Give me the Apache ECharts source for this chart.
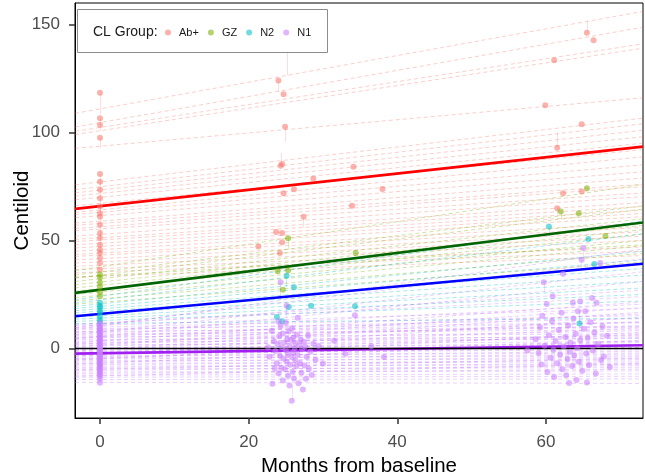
<!DOCTYPE html>
<html>
<head>
<meta charset="utf-8">
<script src="https://cdn.jsdelivr.net/npm/echarts@6/dist/echarts.min.js"></script>
<style>
  html, body { margin: 0; padding: 0; background: #fff; }
  #chart { width: 645px; height: 476px; }
</style>
</head>
<body>
<div id="chart"></div>
<script>
var xMin = -3.36, xMax = 73.05;
var yMin = -32.2, yMax = 159.9;
var xTicks = [0, 20, 40, 60];
var yTicks = [0, 50, 100, 150];

var groups = ['Ab+', 'GZ', 'N2', 'N1'];
var pointColors = ['#F8766D', '#7CAE00', '#00BFC4', '#C77CFF'];
var fitColors = ['#FF0000', '#006400', '#0000FF', '#A020F0'];

// group fitted lines, value at left edge / right edge
var groupStart = [64.6, 25.7, 14.9, -2.4];
var groupEnd = [93.4, 58.3, 39.2, 1.5];

// subject fitted lines (value at left edge, value at right edge)
var abStart = [108.8, 102.5, 100.5, 99, 92.6, 75.7, 73.5, 72, 70.5, 68.8, 63, 62, 60.5, 58, 55.5, 54.5,
  52, 50.5, 49.5, 48, 46.5, 45, 43.5, 42.6, 41, 39.5, 38, 36.5, 35, 33, 66, 57];
var abEnd = [156, 148.7, 141, 139, 116, 106.6, 104, 101, 98, 95, 88.7, 85, 81.8, 78.9, 74.9, 72,
  70.3, 67.5, 65.7, 64, 62.5, 61, 58, 56, 54, 52, 50, 47, 45, 43, 92, 76];
var gzStart = [36, 34, 32.5, 31, 29.5, 28, 26.5, 25, 23.5, 22, 20.5, 33];
var gzEnd = [76, 66, 64.5, 60, 57, 55, 53, 50, 47.5, 44, 40, 48];
var n2Start = [22.5, 21, 19.5, 18.5, 17.5, 16.5, 15.5, 14.5, 13.5, 12.5, 11.5];
var n2End = [59, 53, 45, 41, 37, 34, 31, 28, 25, 22, 14];
var n1Start = [11.2, 10.4, 9.7, 9.1, 8.5, 7.8, 7.2, 6.6, 6.0, 5.3, 4.7, 4.1, 3.4, 2.9, 2.2, 1.6, 1.0, 0.3,
  -0.3, -0.9, -1.5, -2.1, -2.7, -3.3, -3.9, -4.5, -5.1, -5.7, -6.3, -6.9, -7.6, -8.2, -8.9, -9.5, -10.2,
  -10.9, -11.6, -12.4, -13.3, -14.4, -15.7, 8.8, 9.6, 6.3, 4.4, 10.7, 2.6, 0.7, -1.2, -3.6, -5.4, -7.2,
  -9.8, 7.5, 5.0, 1.9, -0.6, -2.4, -4.8, -12.9];
var n1End = [24.0, 18.5, 15.2, 12.0, 13.8, 10.1, 11.9, 8.7, 9.9, 6.8, 10.6, 5.4, 8.2, 4.6, 6.1, 3.2, 5.0, 1.8,
  2.7, 0.4, 1.1, -0.6, 0.2, -2.1, -1.3, -3.4, -2.6, -4.8, -3.9, -6.2, -5.3, -7.5, -6.8, -8.9, -8.0,
  -10.4, -9.6, -11.8, -12.9, -14.1, -16.2, 46.0, 41.5, 35.5, 31.0, 27.0, 21.5, 19.0, 16.8, 14.5, 7.5, 3.5,
  -4.5, 20.5, 16.0, 12.5, 9.5, 6.5, 3.8, -7.0];

// observed values at baseline (month 0)
var abBase = [118.3, 106.5, 103.4, 97.5, 80.8, 77.2, 73.4, 69.5, 65.7, 62.6, 61, 57.2, 53.4, 51.1, 48,
  45.7, 44.2, 41.9, 39.5, 36.5];
var gzBase = [34.2, 32.8, 30.5, 28.7, 26, 24.1];
var n2Base = [21.2, 19.8, 18.9, 17.5, 16.6, 14.9, 13.4, 12.2];
var n1Base = [11.8, 10.6, 9.9, 9.1, 8.4, 7.9, 7.0, 6.3, 5.7, 5.0, 4.2, 3.7, 3.0, 2.4, 1.6, 1.0, 0.3, -0.4,
  -1.1, -1.6, -2.3, -2.9, -3.5, -4.2, -4.9, -5.4, -6.1, -6.8, -7.4, -8.1, -8.7, -9.5, -10.2, -11.1,
  -11.9, -12.8, -14.0, -15.9];

// observed follow-up visits [month, value]
var abFollow = [[25.2, 141], [24.0, 124], [24.7, 117.7], [24.9, 102.6], [24.3, 84.6], [24.5, 85.4],
  [34.1, 84.1], [28.7, 78.7], [26.1, 73.7], [24.7, 71.8], [38.0, 73.8], [33.9, 66], [27.4, 61],
  [23.7, 53.9], [24.5, 53.4], [24.5, 49.2], [21.3, 47.2], [24.2, 44.2],
  [61.1, 133.4], [59.9, 112.6], [65.5, 146.1], [66.4, 142.6], [64.8, 103.8], [61.5, 92.9],
  [62.3, 71.8], [64.8, 72.6], [61.5, 64.9]];
var gzFollow = [[25.3, 51], [34.4, 44.2], [23.9, 35.7], [25.3, 36.1], [24.6, 27.2],
  [65.5, 74.1], [62, 63.4], [64.4, 62.6], [68, 52.1]];
var n2Follow = [[25.1, 33.7], [26.1, 28.3], [25.4, 19.2], [28.4, 19.8], [34.3, 19.5], [23.8, 14.6],
  [24.5, 12.6], [60.4, 56.4], [65.7, 50.6], [66.5, 39.1], [64.5, 11.5]];
var n1Follow = [[23.1, 8.2], [23.4, 3.5], [23.6, -1.2], [23.8, -6.8], [23.9, 1.9], [24.0, -11.5],
  [24.1, 5.6], [24.2, -3.4], [24.3, 10.4], [24.4, -8.9], [24.5, 0.6], [24.6, -14.8], [24.6, 6.9],
  [24.7, -4.7], [24.8, 2.8], [24.9, -9.6], [25.0, -0.8], [25.0, 11.9], [25.1, -6.1], [25.2, 4.4],
  [25.3, -12.7], [25.3, -2.6], [25.4, 7.8], [25.5, -17.2], [25.5, 1.2], [25.6, -7.5], [25.7, 3.9],
  [25.8, -4.1], [25.8, 9.3], [25.9, -10.8], [26.0, -1.9], [26.0, 5.1], [26.1, -13.9], [26.2, 0.2],
  [26.3, -5.6], [26.3, 2.5], [26.4, -8.3], [26.5, 6.3], [26.6, -3.0], [26.7, -16.1], [26.8, 1.5],
  [26.9, -6.9], [27.0, 4.0], [27.1, -11.2], [27.2, -0.3], [27.3, -19.0], [27.4, 3.1], [27.5, -7.9],
  [27.6, 0.9], [27.7, -14.0], [27.8, -3.8], [28.0, 6.0], [28.1, -9.4], [28.3, -1.4], [28.5, -12.3],
  [28.7, 2.2], [29.0, -5.2], [23.2, -16.4], [23.5, -9.2], [24.0, 12.5], [22.8, -3.9], [22.6, 0.5],
  [29.4, 1.1], [30.0, -7.0], [31.5, 3.6], [34.3, 15.4], [25.1, 19.8], [24.3, 30.6], [26.6, 14.2],
  [25.8, -24.2], [33.0, -2.5], [36.5, 1.0], [38.2, -4.0],
  [58.6, 4.2], [59.0, -2.1], [59.2, 9.8], [59.4, -7.4], [59.7, 30.6], [59.8, 1.3], [60.1, 20.6],
  [60.2, -10.9], [60.4, 6.1], [60.6, -4.3], [60.8, 12.7], [61.0, -0.6], [61.1, -13.2], [61.3, 3.4],
  [61.5, -6.9], [61.7, 8.5], [61.9, -2.8], [62.1, 16.5], [62.2, -9.6], [62.3, 34.6], [62.4, 0.9],
  [62.6, 5.3], [62.7, -12.4], [62.9, -4.9], [63.0, 10.6], [63.2, -1.5], [63.3, 2.7], [63.5, -8.1],
  [63.6, 21.2], [63.7, 13.9], [63.8, -3.3], [64.0, 6.8], [64.1, -14.6], [64.2, 0.1], [64.3, 17.2],
  [64.4, -6.2], [64.6, 21.7], [64.6, 3.9], [64.8, 41.1], [64.9, -10.3], [65.0, 46.5], [65.1, 9.1],
  [65.3, 17.2], [65.4, -2.4], [65.5, -15.8], [65.6, 4.8], [65.8, -7.7], [66.0, 12.1], [66.2, 23.4],
  [66.3, -0.9], [66.5, 7.4], [66.7, -11.6], [66.8, 21.1], [67.0, 2.0], [67.3, 39.5], [67.4, -5.4],
  [67.6, 10.2], [67.8, -3.7], [68.2, 5.9], [68.6, -8.6], [59.5, 15.1], [60.9, 24.2], [63.1, -16.0],
  [57.5, -1.0]];

// residual segments [month, observed, fitted]
var abResid = [[0, 118.3, 108.5], [0, 106.5, 101], [0, 97.5, 92.6], [0, 80.8, 75.7], [0, 65.7, 63],
  [0, 53.4, 50.5], [0, 45.7, 42.6], [0, 77.2, 62], [0, 61, 44], [25.2, 141, 126.4], [24.0, 124, 118.7],
  [24.9, 102.6, 95.7], [24.4, 85, 90.4], [27.4, 61, 56], [65.5, 146.1, 151.8], [61.5, 92.9, 99.7],
  [61.5, 64.9, 62]];
var gzResid = [[0, 34.2, 30.5], [25.3, 51, 46], [25.3, 36.1, 38.5], [62, 63.4, 60]];
var n2Resid = [[0, 21.2, 18.9], [25.1, 33.7, 28.5], [60.4, 56.4, 52], [64.5, 11.5, 17]];
var n1Resid = [[24.3, 30.6, 22.5], [25.8, -24.2, -17.2], [65.0, 46.5, 41.5], [64.8, 41.1, 36.5],
  [25.1, 19.8, 14.5], [59.7, 30.6, 26], [34.3, 15.4, 12], [0, 11.8, -15.9]];

var starts = [abStart, gzStart, n2Start, n1Start];
var ends = [abEnd, gzEnd, n2End, n1End];
var bases = [abBase, gzBase, n2Base, n1Base];
var follows = [abFollow, gzFollow, n2Follow, n1Follow];
var resids = [abResid, gzResid, n2Resid, n1Resid];

function rgba(hex, a) {
  var n = parseInt(hex.slice(1), 16);
  return 'rgba(' + (n >> 16) + ',' + ((n >> 8) & 255) + ',' + (n & 255) + ',' + a + ')';
}

var font = 'Liberation Sans, Arial, sans-serif';
var series = [];

// dashed subject lines first, then residuals and points on top
groups.forEach(function (g, i) {
  series.push({
    type: 'lines',
    coordinateSystem: 'cartesian2d',
    silent: true,
    z: 1,
    lineStyle: { color: rgba(pointColors[i], 0.72), width: 1, type: [4, 3] },
    data: starts[i].map(function (s, k) {
      return { coords: [[xMin, s], [xMax, ends[i][k]]] };
    })
  });
});
groups.forEach(function (g, i) {
  series.push({
    type: 'lines',
    coordinateSystem: 'cartesian2d',
    silent: true,
    z: 1,
    lineStyle: { color: rgba(pointColors[i], 0.6), width: 0.8 },
    data: resids[i].map(function (r) {
      return { coords: [[r[0], r[1]], [r[0], r[2]]] };
    })
  });
});
groups.forEach(function (g, i) {
  series.push({
    name: g,
    type: 'scatter',
    z: 2,
    symbolSize: 6,
    itemStyle: { color: rgba(pointColors[i], 0.7) },
    data: bases[i].map(function (v) { return [0, v]; }).concat(follows[i])
  });
});

// group fitted lines
series.push({
  type: 'lines',
  coordinateSystem: 'cartesian2d',
  silent: true,
  z: 2,
  data: groups.map(function (g, i) {
    return {
      coords: [[xMin, groupStart[i]], [xMax, groupEnd[i]]],
      lineStyle: { color: fitColors[i], width: 2.6, opacity: 1 }
    };
  })
});
// reference line at 0
series.push({
  type: 'lines',
  coordinateSystem: 'cartesian2d',
  silent: true,
  z: 2,
  lineStyle: { color: '#000', width: 1.3, opacity: 1 },
  data: [{ coords: [[xMin, 0], [xMax, 0]] }]
});

var chart = echarts.init(document.getElementById('chart'));
chart.setOption({
  animation: false,
  backgroundColor: '#fff',
  textStyle: { fontFamily: font },
  grid: { left: 75, right: 2, top: 3, bottom: 58, show: true, borderColor: '#000', borderWidth: 1,
    outerBoundsMode: 'none' },
  xAxis: {
    type: 'value', min: xMin, max: xMax,
    name: 'Months from baseline', nameLocation: 'middle', nameGap: 38, nameMoveOverlap: false,
    nameTextStyle: { fontSize: 20.5, color: '#000', fontFamily: font },
    axisLine: { show: true, onZero: false, lineStyle: { color: '#000', width: 1 } },
    axisTick: { show: true, customValues: xTicks, length: 6, lineStyle: { color: '#333', width: 1.5 } },
    axisLabel: { customValues: xTicks, fontSize: 17, color: '#4d4d4d', margin: 16, fontFamily: font },
    splitLine: { show: false }
  },
  yAxis: {
    type: 'value', min: yMin, max: yMax,
    name: 'Centiloid', nameLocation: 'middle', nameGap: 42, nameMoveOverlap: false,
    nameTextStyle: { fontSize: 20.5, color: '#000', fontFamily: font },
    axisLine: { show: true, onZero: false, lineStyle: { color: '#000', width: 1 } },
    axisTick: { show: true, customValues: yTicks, length: 6, lineStyle: { color: '#333', width: 1.5 } },
    axisLabel: { customValues: yTicks, fontSize: 17, color: '#4d4d4d', margin: 15, fontFamily: font },
    splitLine: { show: false }
  },
  legend: {
    data: groups,
    left: 165, top: 27, z: 4,
    padding: 0,
    itemWidth: 6, itemHeight: 6, itemGap: 9,
    icon: 'circle',
    textStyle: { fontSize: 11, color: '#1a1a1a', fontFamily: font, padding: [0, 0, 0, 3] }
  },
  graphic: [
    { type: 'rect', z: 3, shape: { x: 77.5, y: 9.5, width: 250, height: 43 },
      style: { fill: '#fff', stroke: '#8c8c8c', lineWidth: 1 } },
    { type: 'text', z: 4, style: { text: 'CL Group:', x: 93, y: 32, verticalAlign: 'middle',
      font: '14px ' + font, fill: '#1a1a1a' } }
  ],
  series: series
});
</script>
</body>
</html>
